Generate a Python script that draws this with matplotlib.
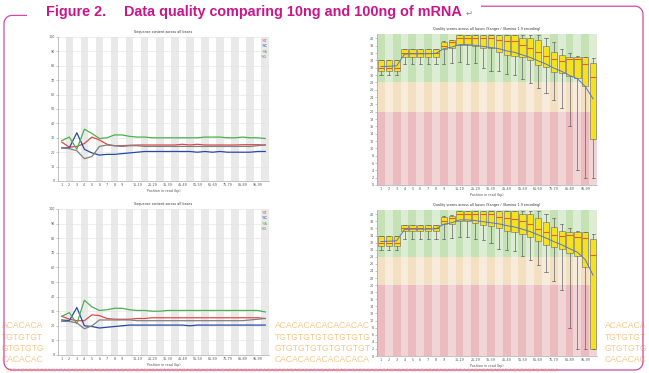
import matplotlib
matplotlib.use("Agg")
import matplotlib.pyplot as plt
from matplotlib import font_manager
from matplotlib.patches import Rectangle
import numpy as np

W, H = 649, 373

# ---------------- data ----------------
groups = ["1", "2", "3", "4", "5", "6", "7", "8", "9",
          "10-14", "15-19", "20-24", "25-29", "30-34", "35-39", "40-44",
          "45-49", "50-54", "55-59", "60-64", "65-69", "70-74", "75-79",
          "80-84", "85-89", "90-94", "95-99", "100-101"]
shown_labels = ["1", "2", "3", "4", "5", "6", "7", "8", "9",
                "15-19", "25-29", "35-39", "45-49", "55-59", "65-69",
                "75-79", "85-89", "95-99"]

# sequence content, 10ng (top) and 100ng (bottom)
t_top = [27, 23.5, 24, 26, 30.5, 28.5, 25.5, 24.5, 24.5, 24.8, 25, 25, 25, 25,
         25, 25, 25.5, 25, 25.5, 25, 25, 25, 25, 25, 25.2, 25.2, 25.2, 25]
c_top = [23, 23, 33.5, 22, 19.5, 18, 18.5, 18.5, 19, 19.5, 20, 20.5, 20.5, 20.5,
         20.5, 20.5, 20.5, 20.5, 20, 20.5, 20, 20.5, 20, 20, 20, 20, 20.5, 20.5]
a_top = [28, 30.5, 22, 36, 33, 29.5, 30, 32, 32, 31, 30.5, 30.5, 30, 30,
         30, 30, 30, 30, 30, 30.5, 30.5, 30.5, 30, 30, 30.5, 30, 30, 29.5]
g_top = [23, 22.5, 21, 15.5, 17, 24, 25, 24.5, 24, 24.5, 24.5, 24, 24, 24,
         24, 24, 24, 24, 24, 24, 24, 24, 24, 24, 24, 24, 24.5, 25]

t_bot = [26.5, 24.5, 23.5, 23.5, 27.5, 27, 25, 24.5, 24.5, 24.5, 25, 25, 25.5, 25.5,
         25.5, 25.5, 25.5, 25.5, 25.5, 25.5, 25.5, 25.5, 25.5, 25.5, 25.5, 25.5, 25.5, 25]
c_bot = [24, 23.5, 32.5, 20, 19.5, 18.5, 19, 19.5, 20, 20.5, 20.5, 20.5, 20.5, 20.5,
         20.5, 20.5, 20.5, 20, 20.5, 20.5, 20.5, 20.5, 20.5, 20.5, 20.5, 20.5, 20.5, 20.5]
a_bot = [26.5, 29, 21.5, 37.5, 33, 30.5, 31, 32, 32, 31, 30.5, 30.5, 30, 30,
         30.5, 30.5, 30.5, 30.5, 30.5, 30.5, 30.5, 30.5, 30.5, 30.5, 30.5, 30.5, 30.5, 29.5]
g_bot = [23, 23, 22, 18, 20, 24, 24, 24, 24, 24, 23.5, 23.5, 23.5, 23.5,
         23.5, 23.5, 23.5, 23.5, 23.5, 23.5, 23.5, 23.5, 23.5, 23.5, 23.5, 24, 24.5, 25]

# quality scores, 10ng (top)
q1_top = [31, 31, 31, 35, 35, 35, 35, 35, 37.2, 37.4, 38.1, 38.1, 37.8, 37.4,
          37.4, 36.4, 35.4, 35.1, 34.8, 34.2, 32.8, 32.1, 30.8, 30.5, 29.8, 29.3, 26.9, 12.6]
med_top = [32, 32, 32, 36, 36, 36, 36, 36, 38, 39, 40, 40, 40, 40,
           40, 39.6, 39.4, 39.2, 38.3, 37.5, 36.4, 35.1, 34.4, 33.9, 34.5, 34.5, 33, 29.6]
q3_top = [34, 34, 34, 37, 37, 37, 37, 37, 39, 39.5, 41, 41, 41, 41,
          41, 41, 41, 40.8, 40.1, 40.1, 39.6, 37.8, 36.3, 35.4, 35, 35, 35, 33.4]
lo_top = [30, 30, 30, 33, 33, 33, 33, 33, 33, 33.3, 33.5, 33, 33.4, 31.9,
          31, 31, 30.2, 30, 29, 27.8, 26.4, 25.1, 23.2, 21, 16, 4, 2, 2]
hi_top = [34, 34, 34, 37, 37, 37, 37, 37, 39.4, 39.5, 41, 41, 41, 41,
          41, 41, 41, 41, 41, 41, 40.8, 40, 39, 37.2, 36, 35.2, 35, 34.6]
mean_top = [32.3, 32.4, 32.5, 35.7, 35.8, 35.8, 35.8, 35.9, 37.2, 37.6, 38.3, 38.3, 38.1, 37.8,
            37.5, 37.2, 36.6, 36.2, 35.5, 34.8, 33.9, 33, 31.9, 31, 29.9, 29, 26.9, 23.5]

# quality scores, 100ng (bottom)
q1_bot = [31.1, 31.1, 31.1, 35.2, 35.2, 35.2, 35.2, 35.2, 37.2, 37.2, 38.1, 38.1, 37.6, 36.9,
          36.7, 36.1, 35.2, 34.9, 34.5, 33.7, 32.5, 31.4, 30.7, 30.2, 29.1, 28.1, 25.1, 2]
med_bot = [32, 32, 32, 36, 36, 36, 36, 36, 38, 39, 40, 40, 40, 40,
           40, 39.3, 39, 38.8, 38.1, 37.2, 35.8, 35, 34.1, 33.9, 34.1, 33.5, 33.2, 28.5]
q3_bot = [34, 34, 34, 37, 37, 37, 37, 37, 39.1, 39.4, 41, 41, 41, 41,
          41, 41, 41, 41, 40, 40, 38.9, 37.7, 36.3, 35.3, 34.9, 34.9, 34.9, 33]
lo_bot = [30, 30, 30, 33, 33, 33, 33, 33, 33, 33.2, 33.5, 33.5, 33, 32.8,
          32, 30.2, 30, 29.5, 28.3, 27, 25.8, 23.7, 21.2, 18.6, 7.8, 2, 2, 2]
hi_bot = [34, 34, 34, 37, 37, 37, 37, 37, 39.5, 39.8, 41, 41, 41, 41,
          41, 41, 41, 41, 41, 41, 40.8, 40, 39, 37.2, 36.2, 35.3, 35, 34.4]
mean_bot = [32.3, 32.4, 32.5, 35.7, 35.8, 35.8, 35.8, 35.9, 37.2, 37.6, 38.4, 38.4, 38.2, 37.9,
            37.6, 37.3, 36.8, 36.4, 35.8, 35.1, 34.2, 33.3, 32.3, 31.4, 30.3, 29.3, 27.2, 22.8]

bases = ["%T", "%C", "%A", "%G"]
base_colors = ["#e04848", "#2a48a8", "#4cb04c", "#808080"]

# ---------------- helpers ----------------
MAGENTA = "#c8168c"
TXT = "#555555"
TICK_FS = 2.4


def px_axes(left, top, right, bottom):
    return fig.add_axes([left / W, 1 - bottom / H, (right - left) / W, (bottom - top) / H], zorder=3)


def set_xcats(ax):
    n = len(groups)
    ax.set_xlim(-0.5, n - 0.5)
    ax.set_xticks(range(n))
    ax.set_xticklabels([g if g in shown_labels else "" for g in groups])
    ax.tick_params(axis="x", length=0, pad=1.6, labelsize=TICK_FS, labelcolor=TXT)
    ax.tick_params(axis="y", length=1.2, width=0.4, pad=1.2, labelsize=TICK_FS,
                   labelcolor=TXT, color="#999999")
    for s in ["top", "right"]:
        ax.spines[s].set_visible(False)
    for s in ["left", "bottom"]:
        ax.spines[s].set_color("#aaaaaa")
        ax.spines[s].set_linewidth(0.5)
    ax.set_xlabel("Position in read (bp)", fontsize=TICK_FS, color=TXT, labelpad=1.2)


def seq_panel(ax, series):
    n = len(groups)
    for i in range(1, n, 2):
        ax.axvspan(i - 0.5, i + 0.5, color="#e9e9e9", lw=0, zorder=0)
    ax.set_ylim(0, 100)
    ax.set_yticks(range(0, 101, 10))
    for y in range(10, 101, 10):
        ax.axhline(y, color="#e2e2e2", lw=0.4, zorder=0.5)
    for vals, col in zip(series, base_colors):
        ax.plot(range(n), vals, color=col, lw=0.9, zorder=2)
    for i, (b, col) in enumerate(zip(bases, base_colors)):
        ax.text(0.993, 0.972 - 0.037 * i, b, color=col, fontsize=2.6,
                ha="right", va="center", transform=ax.transAxes)
    set_xcats(ax)
    ax.set_title("Sequence content across all bases", fontsize=TICK_FS, color="#333333", pad=2.6)


def qual_panel(ax, q1, med, q3, lo, hi, mean):
    n = len(groups)
    top = 41.2
    zones = [(0, 20, "#ebbbbf", "#f1d4d6"),
             (20, 28, "#f3e0c2", "#f7ecdc"),
             (28, top, "#c4e2b6", "#dcedd4")]
    for i in range(n):
        for y0, y1, dark, light in zones:
            ax.add_patch(Rectangle((i - 0.5, y0), 1, y1 - y0, lw=0,
                                   color=dark if i % 2 == 0 else light, zorder=0))
    stats = [dict(q1=a, med=m, q3=b, whislo=l, whishi=h, fliers=[])
             for a, m, b, l, h in zip(q1, med, q3, lo, hi)]
    ax.bxp(stats, positions=list(range(n)), widths=0.8, patch_artist=True,
           showfliers=False, manage_ticks=False,
           boxprops=dict(facecolor="#f7e11c", edgecolor="#777777", lw=0.45),
           medianprops=dict(color="#e0602a", lw=0.8),
           whiskerprops=dict(color="#666666", lw=0.5),
           capprops=dict(color="#666666", lw=0.5))
    ax.plot(range(n), mean, color="#5a78c0", lw=0.7, zorder=5)
    ax.set_ylim(0, top)
    ax.set_yticks(range(0, 41, 2))
    set_xcats(ax)
    ax.set_title("Quality scores across all bases (Sanger / Illumina 1.9 encoding)",
                 fontsize=TICK_FS, color="#333333", pad=2.6)


# ---------------- figure ----------------
fig = plt.figure(figsize=(W / 100, H / 100), dpi=100, facecolor="white")
bg = fig.add_axes([0, 0, 1, 1], zorder=0)
bg.set_xlim(0, W)
bg.set_ylim(H, 0)
bg.axis("off")

# decorative sequence text in the gaps between the panels
ORANGE = "#f8c88a"
rows_y = [326, 337, 348.5, 360]
strips = [(2, ["ACACACA", "TGTGTGT", "GTGTGTG", "CACACAC"]),
          (275, ["ACACACACACACACAC", "TGTGTGTGTGTGTGTG",
                 "GTGTGTGTGTGTGTGT", "CACACACACACACACA"]),
          (605, ["ACACACA", "TGTGTGT", "GTGTGTG", "CACACAC"])]
for x0, rows in strips:
    for y, s in zip(rows_y, rows):
        bg.text(x0, y, s, color=ORANGE, fontsize=6.2, family="Liberation Sans",
                ha="left", va="center", zorder=1)
bg.text(6, 370.5, "CAGA" * 36, color=ORANGE, fontsize=4.0, family="Liberation Sans",
        ha="left", va="center", zorder=1)

# white panel backgrounds
for x0, y0, x1, y1 in [(45, 22, 275, 198), (371, 22, 603, 198),
                       (45, 198, 275, 366), (371, 198, 603, 366)]:
    bg.add_patch(Rectangle((x0, y0), x1 - x0, y1 - y0, color="white", lw=0, zorder=2))


# rounded magenta frame
def arc(cx, cy, r, a0, a1):
    t = np.radians(np.linspace(a0, a1, 12))
    return list(cx + r * np.cos(t)), list(cy + r * np.sin(t))


r = 8
xs, ys = [27], [15.4]
ax_, ay_ = arc(4 + r, 15.4 + r, r, 270, 180); xs += ax_; ys += ay_
ax_, ay_ = arc(4 + r, 370 - r, r, 180, 90); xs += ax_; ys += ay_
ax_, ay_ = arc(643 - r, 370 - r, r, 90, 0); xs += ax_; ys += ay_
ax_, ay_ = arc(643 - r, 6.2 + r, r, 0, -90); xs += ax_; ys += ay_
xs.append(481); ys.append(6.2)
bg.plot(xs, ys, color="#d04aa2", lw=0.9, zorder=3, solid_capstyle="butt")

# title
names = {f.name for f in font_manager.fontManager.ttflist}
tfam = "Liberation Sans Narrow" if "Liberation Sans Narrow" in names else "Liberation Sans"
t1 = bg.text(45.6, 16.4, "Figure 2.", color=MAGENTA, fontsize=11.5, weight="bold",
             family=tfam, ha="left", va="baseline", zorder=4)
t2 = bg.text(124.5, 16.4, "Data quality comparing 10ng and 100ng of mRNA", color=MAGENTA,
             fontsize=11.5, weight="bold", family=tfam, ha="left", va="baseline", zorder=4)
renderer = fig.canvas.get_renderer()
wpx = t2.get_window_extent(renderer).width
scale = (465 - 124.5) / wpx
t1.set_fontsize(11.5 * scale)
t2.set_fontsize(11.5 * scale)
bg.text(466, 15.5, "\u21b5", color="#888888", fontsize=6, family="DejaVu Sans",
        ha="left", va="baseline", zorder=4)

# panels
ax_tl = px_axes(58, 37, 269, 181)
seq_panel(ax_tl, [t_top, c_top, a_top, g_top])
ax_tr = px_axes(377, 34, 597, 185)
qual_panel(ax_tr, q1_top, med_top, q3_top, lo_top, hi_top, mean_top)
ax_bl = px_axes(58, 209, 269, 355)
seq_panel(ax_bl, [t_bot, c_bot, a_bot, g_bot])
ax_br = px_axes(377, 210, 597, 356)
qual_panel(ax_br, q1_bot, med_bot, q3_bot, lo_bot, hi_bot, mean_bot)

fig.savefig("out.png", dpi=100, facecolor="white")
